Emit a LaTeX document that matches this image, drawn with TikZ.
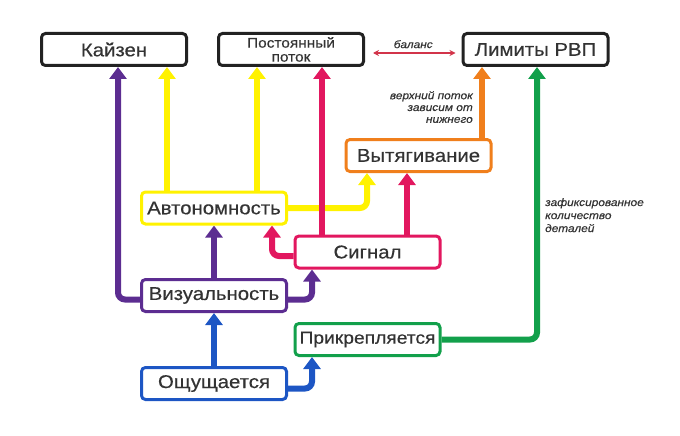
\documentclass[tikz,border=0pt]{standalone}
\usepackage{fontspec}
\setmainfont{Liberation Sans}[FakeStretch=1.1, FakeBold=0.4]
\usetikzlibrary{arrows.meta,backgrounds}
\definecolor{cpur}{HTML}{5C2D91}
\definecolor{cyel}{HTML}{FFF200}
\definecolor{cred}{HTML}{E2175F}
\definecolor{cora}{HTML}{F07F1C}
\definecolor{cgrn}{HTML}{12A04B}
\definecolor{cblu}{HTML}{1D56C4}
\definecolor{cdark}{HTML}{222222}
\definecolor{ctext}{HTML}{333333}
\definecolor{cbal}{HTML}{D2344A}
\begin{document}
\begin{tikzpicture}[x=1pt,y=-1pt,
  box/.style={draw=#1, line width=3pt, rounded corners=4pt, fill=white,
    minimum width=145pt, minimum height=32pt, inner sep=0pt,
    font=\fontsize{18.5}{20}\selectfont, text=ctext},
  conn/.style={line width=6pt, draw=#1, rounded corners=7pt,
    -{Triangle[width=17pt,length=12pt]}},
  lbl/.style={font=\fontsize{10.8}{11.8}\selectfont\itshape, text=ctext, inner sep=0pt}
]
\useasboundingbox (0,0) rectangle (680,436);

\node[box=cdark, align=center, font=\fontsize{14}{14}\selectfont] (potok) at (291,49.5) {Постоянный\\поток};
\node[box=cdark] (kaizen) at (114,49.5) {Кайзен};
\node[box=cdark] (limits) at (535.5,49.5) {Лимиты РВП};
\node[box=cora] (pull) at (418.5,155.5) {Вытягивание};
\node[box=cyel] (auto) at (214,208) {Автономность};
\node[box=cred] (signal) at (367.5,252) {Сигнал};
\node[box=cpur] (visual) at (214,295.5) {Визуальность};
\node[box=cgrn, font=\fontsize{17.5}{19}\selectfont] (attach) at (367.5,339.5) {Прикрепляется};
\node[box=cblu] (feel) at (214,383.5) {Ощущается};

\begin{pgfonlayer}{background}
  % yellow
  \draw[conn=cyel] (auto.north -| 167,0) -- (kaizen.south -| 167,0);
  \draw[conn=cyel] (auto.north -| 257,0) -- (potok.south -| 257,0);
  \draw[conn=cyel] (auto.east) -| (pull.south -| 367,0);
  % red
  \draw[conn=cred] (signal.north -| 322,0) -- (potok.south -| 322,0);
  \draw[conn=cred] (signal.north -| 407,0) -- (pull.south -| 407,0);
  \draw[conn=cred] ([yshift=-4pt]signal.west) -| (auto.south -| 272,0);
  % purple
  \draw[conn=cpur] ([yshift=-4pt]visual.west) -| (kaizen.south -| 118,0);
  \draw[conn=cpur] (visual.north) -- (auto.south);
  \draw[conn=cpur] ([yshift=-4pt]visual.east) -| (signal.south -| 312,0);
  % blue
  \draw[conn=cblu] (feel.north) -- (visual.south);
  \draw[conn=cblu] ([yshift=-5pt]feel.east) -| (attach.south -| 312,0);
  % orange, green
  \draw[conn=cora] (pull.north -| 482,0) -- (limits.south -| 482,0);
  \draw[conn=cgrn] (attach.east) -| (limits.south -| 537,0);
\end{pgfonlayer}

\draw[cbal, line width=1.6pt, {Stealth[length=6pt,width=6pt]}-{Stealth[length=6pt,width=6pt]},
  shorten <=8pt, shorten >=6pt] ([yshift=-3.5pt]potok.east) -- ([yshift=-3.5pt]limits.west)
  node[midway, above=4pt, lbl] (bal) {баланс};

\node[lbl, align=right, anchor=north east] (up) at (473,91) {верхний поток\\зависим от\\нижнего};
\node[lbl, align=left, anchor=north west, font=\fontsize{10.8}{13}\selectfont\itshape] (fix) at (545,198) {зафиксированное\\количество\\деталей};
\end{tikzpicture}
\end{document}
